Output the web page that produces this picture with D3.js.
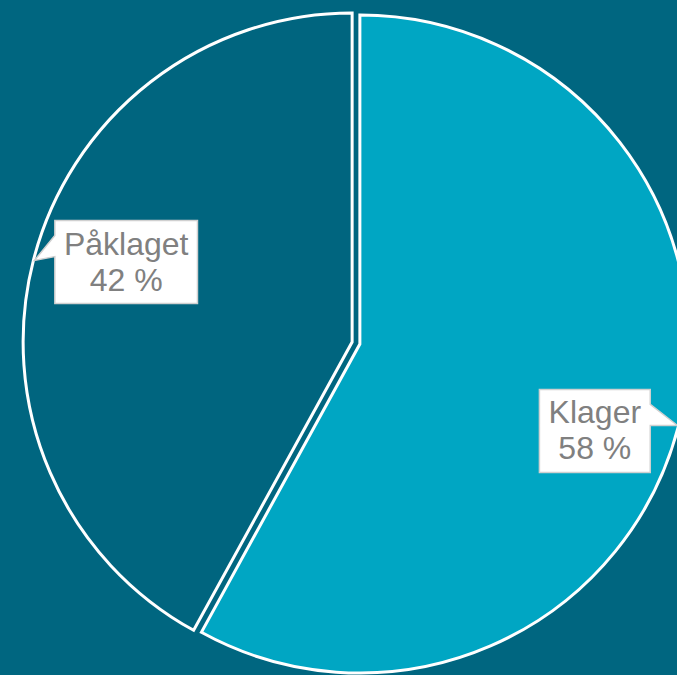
<!DOCTYPE html>
<html>
<head>
<meta charset="utf-8">
<script src="https://unpkg.com/d3@7/dist/d3.min.js"></script>
<style>
  body { margin: 0; background: #006680; }
  svg { display: block; }
</style>
</head>
<body>
<div class="pieChart"></div>
<script>
// data
const categories = ["Klager", "Påklaget"];
const values = [58, 42];
const percentLabels = ["58 %", "42 %"];

const width = 677, height = 675;
const radius = 329;
const center = { x: 356, y: 343 };
const explode = 4;
const colors = ["#00A6C3", "#00657F"];

const svg = d3
  .select(".pieChart")
  .append("svg")
  .attr("width", width)
  .attr("height", height);

svg.append("rect")
  .attr("width", width)
  .attr("height", height)
  .attr("fill", "#006680");

const g = svg.append("g")
  .attr("transform", "translate(" + center.x + "," + center.y + ")");

const pie = d3.pie().sort(null).value((d) => d.value);
const slices = pie(categories.map((c, i) => ({ name: c, value: values[i], label: percentLabels[i] })));

const arc = d3.arc().innerRadius(0).outerRadius(radius);

// polar helper, angle clockwise from 12 o'clock
const polar = (a, r) => [Math.sin(a) * r, -Math.cos(a) * r];
const mid = (d) => (d.startAngle + d.endAngle) / 2;

// slices, pulled apart a bit
g.selectAll(".slice")
  .data(slices)
  .join("path")
  .attr("class", "slice")
  .attr("transform", (d) => {
    const [dx, dy] = polar(mid(d), explode);
    return "translate(" + dx + "," + dy + ")";
  })
  .attr("d", arc)
  .attr("fill", (d, i) => colors[i])
  .attr("stroke", "white")
  .attr("stroke-width", 3)
  .attr("stroke-linejoin", "miter");

// callout labels
const fontSize = 32;
const lineGap = 36;
const pad = 9;
const boxH = 83;
const labelShift = [4.5, 3.5];

const labels = g.selectAll(".callout")
  .data(slices)
  .join("g")
  .attr("class", "callout");

labels.each(function (d) {
  const sel = d3.select(this);
  const off = polar(mid(d), explode);
  const [lx, ly] = polar(mid(d) + 0.096, radius * 0.745);
  const cx = lx + off[0] + labelShift[0], cy = ly + off[1] + labelShift[1];
  const [tx0, ty0] = polar(mid(d), radius - 1);
  const tipX = tx0 + off[0], tipY = ty0 + off[1];

  // measure text first
  const t = sel.append("text")
    .attr("font-family", "'Liberation Sans', Arial, sans-serif")
    .attr("font-size", fontSize)
    .attr("fill", "#808080")
    .attr("text-anchor", "middle");
  t.append("tspan").attr("x", cx).attr("y", cy - lineGap / 2 + fontSize * 0.33).text(d.data.name);
  t.append("tspan").attr("x", cx).attr("y", cy + lineGap / 2 + fontSize * 0.33).text(d.data.label);
  const w = t.node().getBBox().width + pad * 2;

  const x0 = cx - w / 2, x1 = cx + w / 2, y0 = cy - boxH / 2, y1 = cy + boxH / 2;
  const b0 = y0 + 15, b1 = y0 + 36;
  let pts;
  if (tipX > cx) {
    pts = [[x0, y0], [x1, y0], [x1, b0], [tipX, tipY], [x1, b1], [x1, y1], [x0, y1]];
  } else {
    pts = [[x0, y0], [x1, y0], [x1, y1], [x0, y1], [x0, b1], [tipX, tipY], [x0, b0]];
  }
  sel.insert("path", "text")
    .attr("d", d3.line()(pts) + "Z")
    .attr("fill", "white")
    .attr("stroke", "#D0D0D0")
    .attr("stroke-width", 1.5);
});
</script>
</body>
</html>
